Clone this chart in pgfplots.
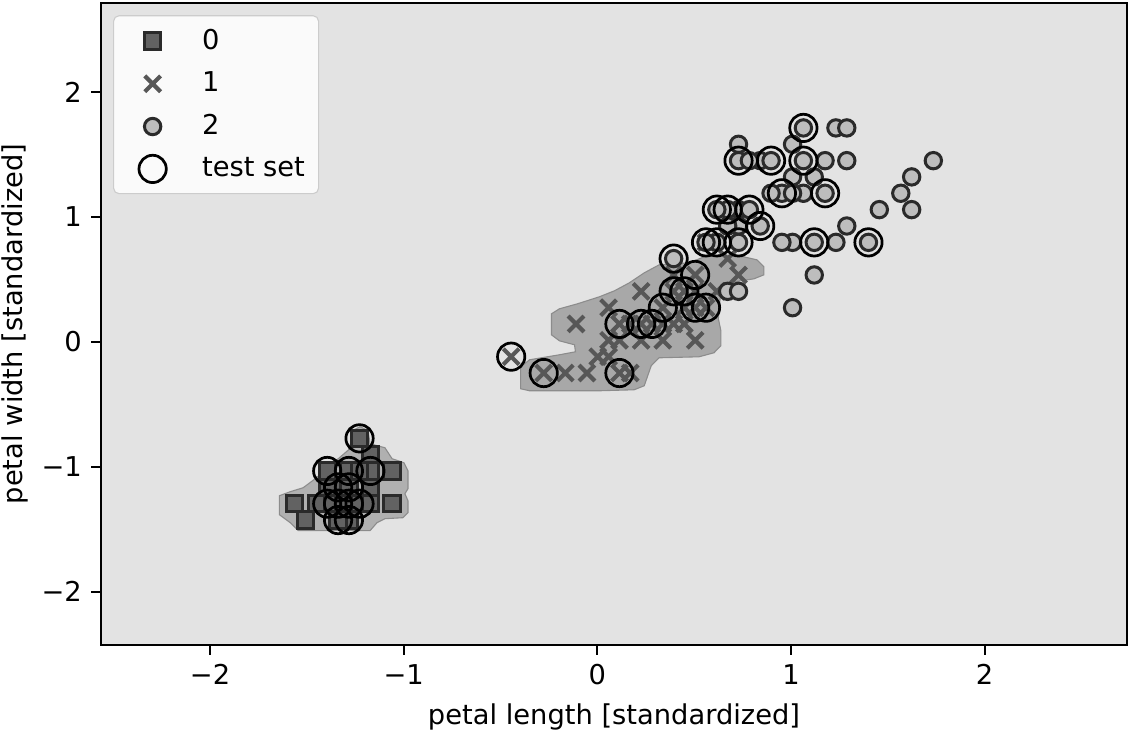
\documentclass[border=0pt]{standalone}
\usepackage{fontspec}
\setmainfont{DejaVu Sans}
\usepackage{pgfplots}
\pgfplotsset{compat=1.18}
\definecolor{bgc}{HTML}{E3E3E3}
\definecolor{rzero}{HTML}{B0B0B0}
\definecolor{rone}{HTML}{A8A8A8}
\definecolor{redge}{HTML}{8C8C8C}
\definecolor{mzero}{HTML}{626262}
\definecolor{mone}{HTML}{575757}
\definecolor{mtwo}{HTML}{BDBDBD}
\definecolor{medge}{HTML}{2A2A2A}
\pgfplotsset{mylegimg/.style={legend image code/.code={\path[draw=none,fill=none] (0pt,-1pt) rectangle (27.4pt,1pt);\draw[##1] plot[only marks] coordinates {(11.3pt,0pt)};}}}
\begin{document}
\begin{tikzpicture}
\begin{axis}[
  width=375.7pt, height=235.1pt, scale only axis,
  xmin=-2.563, xmax=2.735, ymin=-2.427, ymax=2.712,
  axis background/.style={fill=bgc},
  xtick={-2,-1,0,1,2}, xticklabels={−2,−1,0,1,2},
  ytick={-2,-1,0,1,2}, yticklabels={−2,−1,0,1,2},
  tick align=outside, major tick length=3.5pt, tick pos=left,
  every tick/.style={black, line width=0.8pt},
  axis line style={line width=0.8pt},
  tick label style={font=\fontsize{10}{12}\selectfont},
  xlabel={petal length [standardized]},
  ylabel={petal width [standardized]},
  label style={font=\fontsize{10}{12}\selectfont},
  xlabel style={at={(axis description cs:0.5,0)}, anchor=center, yshift=-26.4pt},
  ylabel style={at={(axis description cs:-0.0838,0.5)}, anchor=center},
  legend style={at={(axis description cs:0.0117,0.981)}, anchor=north west,
    draw=black!20, fill=white!98!black, rounded corners=2pt,
    font=\fontsize{10}{12}\selectfont, row sep=2.8pt, inner xsep=3pt, inner ysep=2.8pt},
  legend cell align=left,
]
% decision region, class 0
\addplot[fill=rzero, draw=redge, line width=0.4pt, forget plot] coordinates {
(-1.642,-1.232) (-1.586,-1.200) (-1.519,-1.168) (-1.457,-1.096) (-1.380,-0.992)
(-1.302,-0.888) (-1.266,-0.840) (-1.266,-0.712) (-1.225,-0.680) (-1.184,-0.712)
(-1.174,-0.816) (-1.097,-0.848) (-1.060,-0.936) (-0.999,-0.968) (-0.978,-1.032)
(-0.978,-1.176) (-0.994,-1.216) (-0.978,-1.272) (-0.978,-1.368) (-1.004,-1.408)
(-1.097,-1.416) (-1.138,-1.448) (-1.174,-1.512) (-1.544,-1.512) (-1.586,-1.448)
(-1.642,-1.384)} -- cycle;
% decision region, class 1
\addplot[fill=rone, draw=redge, line width=0.4pt, forget plot] coordinates {
(-0.396,-0.376) (-0.396,-0.200) (-0.350,-0.144) (-0.196,-0.104) (-0.113,-0.080)
(-0.118,-0.024) (-0.196,0.008) (-0.237,0.056) (-0.237,0.224) (-0.196,0.264)
(-0.103,0.304) (0.010,0.360) (0.088,0.408) (0.165,0.472) (0.242,0.552)
(0.319,0.616) (0.474,0.632) (0.551,0.680) (0.654,0.696) (0.757,0.680)
(0.824,0.656) (0.860,0.600) (0.860,0.536) (0.808,0.504) (0.705,0.480)
(0.640,0.456) (0.635,0.368) (0.625,0.184) (0.638,0.088) (0.638,-0.032)
(0.602,-0.088) (0.525,-0.120) (0.319,-0.128) (0.278,-0.192) (0.242,-0.352)
(0.190,-0.384) (0.010,-0.392) (-0.196,-0.392) (-0.350,-0.392)} -- cycle;
% class 0
\addplot[only marks, mylegimg, mark=square*, mark size=3pt, mark options={fill=mzero, draw=medge, line width=1.1pt}] coordinates {
(-1.339,-1.296) (-1.395,-1.296) (-1.283,-1.296) (-1.172,-1.034) (-1.339,-1.165)
(-1.283,-1.427) (-1.228,-1.296) (-1.339,-1.427) (-1.507,-1.427) (-1.451,-1.296)
(-1.283,-1.034) (-1.395,-1.034) (-1.172,-1.165) (-1.283,-1.165) (-1.172,-1.296)
(-1.563,-1.296) (-1.172,-0.904) (-1.060,-1.296) (-1.228,-1.034) (-1.395,-1.165)
(-1.228,-0.773) (-1.060,-1.034)};
\addlegendentry{0}
% class 1
\addplot[only marks, mylegimg, mark=x, mark size=4.1pt, mark options={draw=mone, line width=1.5pt}] coordinates {
(0.505,0.273) (0.394,0.404) (0.617,0.404) (0.114,0.143) (0.449,0.404)
(0.394,0.143) (0.505,0.535) (-0.277,-0.250) (0.449,0.143) (0.058,0.273)
(-0.166,-0.250) (0.226,0.404) (0.114,-0.250) (-0.110,0.143) (0.338,0.273)
(0.170,-0.250) (0.058,-0.119) (0.561,0.796) (0.505,0.012) (0.282,0.143)
(0.561,0.273) (0.673,0.666) (0.002,-0.119) (-0.054,-0.250) (0.058,0.012)
(0.729,0.535) (0.394,0.535) (0.505,0.404) (0.338,0.143) (0.170,0.143)
(0.338,0.012) (0.449,0.273) (0.114,0.012) (0.226,0.143) (0.226,0.012)
(-0.445,-0.119)};
\addlegendentry{1}
% class 2
\addplot[only marks, mylegimg, mark=*, mark size=3pt, mark options={fill=mtwo, draw=medge, line width=1.1pt}] coordinates {
(1.232,1.712) (0.729,0.927) (1.176,1.189) (1.008,0.796) (1.120,1.320)
(1.567,1.189) (0.394,0.666) (1.400,0.796) (1.120,0.796) (1.288,1.712)
(0.729,1.058) (0.841,0.927) (0.953,1.189) (0.673,1.058) (0.729,1.581)
(0.841,1.450) (0.953,0.796) (1.623,1.320) (1.735,1.450) (0.673,0.404)
(1.064,1.450) (0.617,1.058) (1.623,1.058) (0.617,0.796) (1.064,1.189)
(1.232,0.796) (0.561,0.796) (1.008,1.189) (1.120,0.535) (1.288,0.927)
(1.456,1.058) (1.008,1.320) (0.729,0.404) (1.008,0.273) (1.288,1.450)
(1.008,1.581) (0.897,1.189) (0.729,1.450) (1.176,1.450) (1.064,1.712)
(0.785,1.450) (0.673,0.927) (0.785,1.058) (0.897,1.450) (0.729,0.796)};
\addlegendentry{2}
% test set
\addplot[only marks, mylegimg, mark=o, mark size=5pt, mark options={draw=black, line width=1pt}] coordinates {
(-1.228,-0.773) (-1.395,-1.034) (-1.283,-1.034) (-1.172,-1.034) (-1.339,-1.165)
(-1.283,-1.165) (-1.395,-1.296) (-1.339,-1.296) (-1.283,-1.296) (-1.228,-1.296)
(-1.339,-1.427) (-1.283,-1.427)
(-0.445,-0.119) (-0.277,-0.250) (0.114,-0.250) (0.114,0.143) (0.226,0.143)
(0.282,0.143) (0.338,0.273) (0.394,0.404) (0.449,0.404) (0.505,0.535)
(0.505,0.273) (0.561,0.273) (0.561,0.796)
(1.064,1.712) (0.729,1.450) (0.897,1.450) (1.064,1.450) (0.953,1.189)
(1.176,1.189) (0.617,1.058) (0.673,1.058) (0.785,1.058) (0.841,0.927)
(0.617,0.796) (0.729,0.796) (1.120,0.796) (1.400,0.796) (0.394,0.666)};
\addlegendentry{test set}
\end{axis}
\pgfresetboundingbox
\path ([shift={(-37pt,-33.3pt)}]current axis.south west) rectangle ([shift={(3.3pt,1.1pt)}]current axis.north east);
\end{tikzpicture}
\end{document}
